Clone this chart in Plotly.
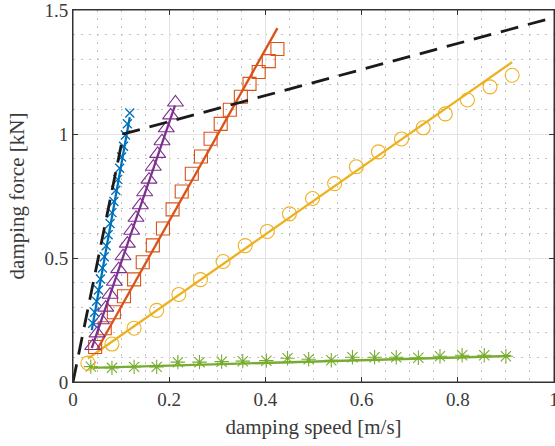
import plotly.graph_objects as go

# ---- data ----
v_blue = [0.041,0.045,0.049,0.053,0.057,0.061,0.065,0.069,0.073,0.077,0.081,0.085,0.089,0.093,0.097,0.101,0.105,0.109,0.113,0.118]
F_blue = [0.237,0.281,0.326,0.371,0.415,0.460,0.505,0.549,0.594,0.639,0.683,0.728,0.773,0.817,0.862,0.907,0.951,0.996,1.041,1.085]
fit_blue_v = [0.039, 0.118]
fit_blue_F = [0.209, 1.068]

v_purple = [0.041,0.050,0.059,0.068,0.077,0.086,0.095,0.104,0.113,0.122,0.131,0.140,0.149,0.158,0.167,0.176,0.185,0.194,0.203,0.213]
F_purple = [0.145,0.196,0.249,0.300,0.352,0.404,0.455,0.507,0.558,0.610,0.662,0.713,0.765,0.816,0.868,0.920,0.971,1.023,1.075,1.127]
fit_purple_v = [0.039, 0.212]
fit_purple_F = [0.137, 1.114]

v_orange = [0.046,0.066,0.085,0.106,0.127,0.145,0.166,0.187,0.207,0.226,0.247,0.266,0.286,0.307,0.326,0.349,0.367,0.386,0.407,0.425]
F_orange = [0.141,0.217,0.281,0.346,0.414,0.483,0.551,0.619,0.696,0.768,0.840,0.909,0.981,1.041,1.098,1.150,1.202,1.250,1.294,1.343]
fit_orange_v = [0.050, 0.425]
fit_orange_F = [0.130, 1.427]

v_yellow = [0.031,0.081,0.127,0.174,0.220,0.265,0.312,0.358,0.404,0.450,0.498,0.544,0.589,0.635,0.683,0.728,0.774,0.820,0.867,0.913]
F_yellow = [0.076,0.153,0.217,0.289,0.353,0.413,0.486,0.550,0.607,0.678,0.740,0.800,0.868,0.928,0.980,1.025,1.081,1.137,1.190,1.237]
fit_yellow_v = [0.031, 0.913]
fit_yellow_F = [0.095, 1.290]

v_green = [0.037,0.081,0.127,0.174,0.218,0.263,0.309,0.353,0.402,0.446,0.490,0.537,0.581,0.627,0.672,0.718,0.763,0.809,0.855,0.900]
F_green = [0.062,0.057,0.061,0.061,0.080,0.080,0.082,0.084,0.086,0.096,0.092,0.088,0.100,0.100,0.100,0.098,0.104,0.108,0.108,0.104]
fit_green_v = [0.037, 0.910]
fit_green_F = [0.057, 0.105]

dash_v = [0.0, 0.105, 1.0]
dash_F = [0.0, 1.0, 1.47]

x_ticks = [0, 0.2, 0.4, 0.6, 0.8, 1]
x_tick_labels = ["0", "0.2", "0.4", "0.6", "0.8", "1"]
y_ticks = [0, 0.5, 1, 1.5]
y_tick_labels = ["0", "0.5", "1", "1.5"]

BLUE = "#0072BD"
ORANGE = "#D95319"
YELLOW = "#EDB120"
PURPLE = "#7E2F8E"
GREEN = "#77AC30"
TXT = "#3a3a3a"
SERIF = "Liberation Serif, Times New Roman, DejaVu Serif, serif"

fig = go.Figure()

def series(v, F, fv, fF, color, symbol, size, lw=1.1):
    fig.add_trace(go.Scatter(x=v, y=F, mode="markers",
                             marker=dict(symbol=symbol, size=size, color=color,
                                         line=dict(color=color, width=lw)),
                             showlegend=False, hoverinfo="skip"))
    fig.add_trace(go.Scatter(x=fv, y=fF, mode="lines",
                             line=dict(color=color, width=2.3),
                             showlegend=False, hoverinfo="skip"))

series(v_green, F_green, fit_green_v, fit_green_F, GREEN, "asterisk-open", 12)
series(v_yellow, F_yellow, fit_yellow_v, fit_yellow_F, YELLOW, "circle-open", 14)
series(v_orange, F_orange, fit_orange_v, fit_orange_F, ORANGE, "square-open", 13)
series(v_purple, F_purple, fit_purple_v, fit_purple_F, PURPLE, "triangle-up-open", 14)
series(v_blue, F_blue, fit_blue_v, fit_blue_F, BLUE, "x-thin-open", 9, 1.4)

fig.add_trace(go.Scatter(x=dash_v, y=dash_F, mode="lines",
                         line=dict(color="#1a1a1a", width=2.8, dash="18px,10px"),
                         showlegend=False, hoverinfo="skip"))

axis_common = dict(
    showline=True, linecolor="#333333", linewidth=1, mirror="ticks",
    ticks="inside", ticklen=5, tickcolor="#333333",
    showgrid=True, gridcolor="#e3e3e3", gridwidth=1,
    zeroline=False, automargin=False, ticklabeloverflow="allow",
    tickfont=dict(family=SERIF, size=19, color=TXT),
)

fig.update_xaxes(range=[0, 1], tickvals=x_ticks, ticktext=x_tick_labels,
                 minor=dict(dtick=0.05, showgrid=True, gridcolor="#bfbfbf",
                            griddash="2px,6px", gridwidth=1.2, ticks=""),
                 title=dict(text="damping speed [m/s]", standoff=10,
                            font=dict(family=SERIF, size=21, color=TXT)),
                 **axis_common)
fig.update_yaxes(range=[0, 1.5], tickvals=y_ticks, ticktext=y_tick_labels,
                 minor=dict(dtick=0.1, showgrid=True, gridcolor="#bfbfbf",
                            griddash="2px,6px", gridwidth=1.2, ticks=""),
                 title=dict(text="damping force [kN]", standoff=14,
                            font=dict(family=SERIF, size=21, color=TXT)),
                 **axis_common)

fig.add_shape(type="rect", xref="x domain", yref="y domain", x0=0, x1=1, y0=0, y1=1,
              line=dict(color="#333333", width=1), fillcolor="rgba(0,0,0,0)", layer="above")

fig.update_layout(width=555, height=446,
                  margin=dict(l=73, r=1, t=10, b=64),
                  paper_bgcolor="white", plot_bgcolor="white")

fig.write_html("out.html", config={"displayModeBar": False},
               post_script="document.body.style.margin='0';document.body.style.padding='0';")
